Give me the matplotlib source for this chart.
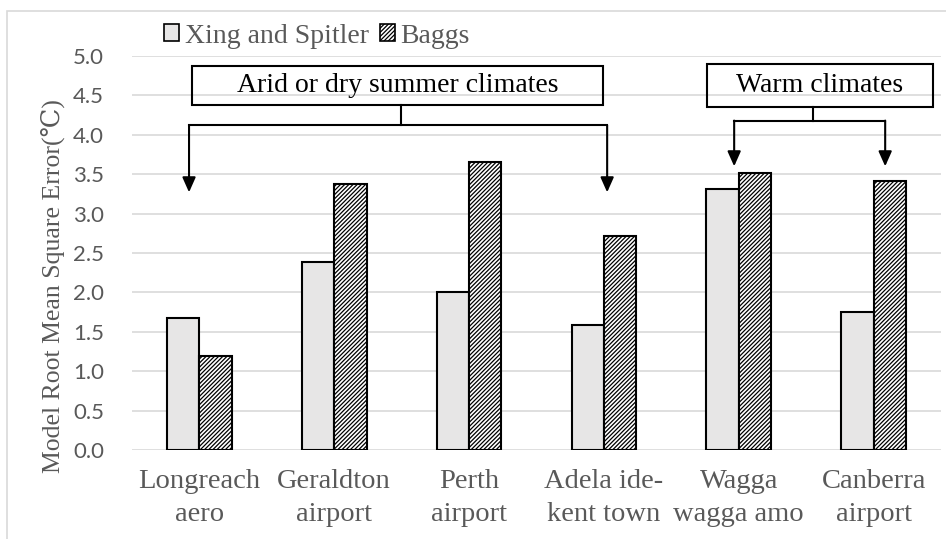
import numpy as np
import matplotlib
matplotlib.use("Agg")
import matplotlib.pyplot as plt
from matplotlib.patches import Rectangle, Patch

# データ
stations = ["Longreach\naero", "Geraldton\nairport", "Perth\nairport",
            "Adela ide-\nkent town", "Wagga\nwagga amo", "Canberra\nairport"]
xing = [1.67, 2.39, 2.00, 1.59, 3.31, 1.75]
baggs = [1.19, 3.37, 3.66, 2.72, 3.51, 3.41]
yticks = np.arange(0, 5.01, 0.5)

serif = ["Liberation Serif", "DejaVu Serif"]
sans = ["Lato", "DejaVu Sans"]
gray_txt = "#595959"

fig = plt.figure(figsize=(9.46, 5.39), dpi=100)
# 外枠
fig.patches.append(Rectangle((7/946, -0.1), 1.1, 1 - 11/539 + 0.1, transform=fig.transFigure,
                             fill=False, edgecolor="#d9d9d9", lw=1.2))
ax = fig.add_axes([132/946, 1 - 450/539, 809/946, 394/539])

x = np.arange(len(stations))
w = 0.24
plt.rcParams['hatch.linewidth'] = 0.9
ax.bar(x - w/2, xing, w, color="#e7e6e6", edgecolor="black", lw=1.5, zorder=3)
ax.bar(x + w/2, baggs, w, color="white", edgecolor="black", hatch="////////", lw=1.5, zorder=3)

ax.set_xlim(-0.5, 5.5)
ax.set_ylim(0, 5)
ax.set_yticks(yticks)
ax.set_yticklabels([f"{v:.1f}" for v in yticks], family=sans, fontsize=16, color=gray_txt)
ax.set_xticks(x)
ax.set_xticklabels(stations, family=serif, fontsize=20.5, color=gray_txt, linespacing=1.4)
ax.tick_params(axis="y", length=0, pad=20)
ax.tick_params(axis="x", length=0, pad=14)
ax.grid(axis="y", color="#d9d9d9", lw=1.2, zorder=0)
for s in ax.spines.values():
    s.set_visible(False)
ax.set_ylabel("Model Root Mean Square Error(℃)", family=serif, fontsize=18.5, color=gray_txt)
ax.yaxis.set_label_coords(-0.083, 0.415)

# 注釈ボックスと矢印
def group(label, box, stem_x, bar_y, stem_top, xs, tip_y):
    ax.text((box[0] + box[1]) / 2, (box[2] + box[3]) / 2, label, family=serif, fontsize=20,
            ha="center", va="center", zorder=5)
    ax.add_patch(Rectangle((box[0], box[2]), box[1] - box[0], box[3] - box[2], fill=False,
                           edgecolor="black", lw=1.5, zorder=5))
    ax.plot([stem_x, stem_x], [stem_top, bar_y], color="black", lw=1.5, zorder=5)
    ax.plot([xs[0], xs[1]], [bar_y, bar_y], color="black", lw=1.5, zorder=5)
    for xx in xs:
        ax.annotate("", xy=(xx, tip_y), xytext=(xx, bar_y),
                    arrowprops=dict(arrowstyle="-|>,head_length=0.9,head_width=0.4",
                                    lw=1.5, color="black", shrinkA=0, shrinkB=0), zorder=5)

group("Arid or dry summer climates", (-0.055, 2.994, 4.38, 4.87), 1.496, 4.12, 4.38,
      (-0.077, 3.024), 3.27)
group("Warm climates", (3.766, 5.44, 4.35, 4.90), 4.55, 4.18, 4.35, (3.966, 5.086), 3.60)

# 凡例
handles = [Patch(facecolor="#e7e6e6", edgecolor="black", lw=1.2),
           Patch(facecolor="white", edgecolor="black", hatch="////////", lw=1.2)]
fig.legend(handles, ["Xing and Spitler", "Baggs"], loc="center left",
           bbox_to_anchor=(150/946, 1 - 36/539), ncol=2, frameon=False,
           prop={"family": serif, "size": 20}, handlelength=0.55, handleheight=0.55,
           handletextpad=0.2, columnspacing=0.4, labelcolor=gray_txt, borderpad=0)

fig.savefig("out.png", dpi=100)
